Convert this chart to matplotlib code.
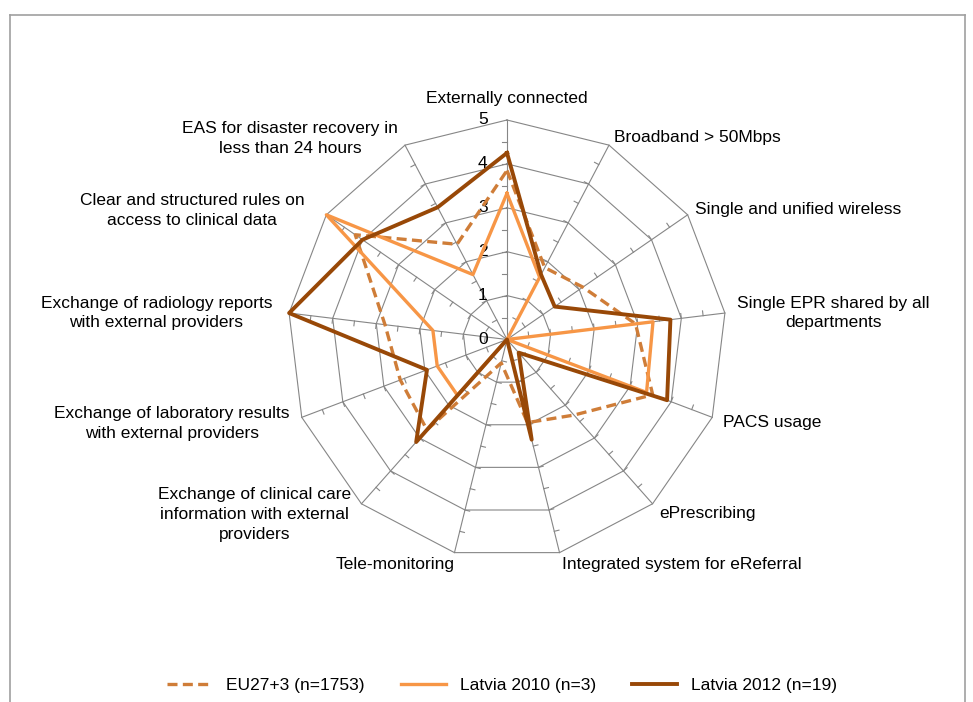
import numpy as np
import matplotlib.pyplot as plt
from matplotlib.lines import Line2D

plt.rcParams['font.family'] = ['Liberation Sans', 'DejaVu Sans']

# axes of the radar, clockwise from the top
categories = [
    "Externally connected",
    "Broadband > 50Mbps",
    "Single and unified wireless",
    "Single EPR shared by all\ndepartments",
    "PACS usage",
    "ePrescribing",
    "Integrated system for eReferral",
    "Tele-monitoring",
    "Exchange of clinical care\ninformation with external\nproviders",
    "Exchange of laboratory results\nwith external providers",
    "Exchange of radiology reports\nwith external providers",
    "Clear and structured rules on\naccess to clinical data",
    "EAS for disaster recovery in\nless than 24 hours",
]
eu = [3.85, 1.85, 2.1, 2.95, 3.55, 2.3, 1.95, 0.55, 2.75, 2.6, 2.8, 4.2, 2.45]
lv2010 = [3.33, 1.6, 0.0, 3.35, 3.4, 0.0, 0.0, 0.0, 1.7, 1.7, 1.7, 5.0, 1.67]
lv2012 = [4.25, 1.67, 1.32, 3.75, 3.9, 0.4, 2.35, 0.0, 3.12, 1.95, 5.0, 4.0, 3.4]
r_ticks = [0, 1, 2, 3, 4, 5]

# label offsets (px) from the outer vertex and alignment
lab_off = [(0, 21), (5, 8), (7, 5), (12, 0), (11, -5), (7, -10), (2, -12),
           (0, -12), (-10, -11), (-12, -6), (-17, 0), (-22, 4), (-7, 7)]
lab_ha = ['center', 'left', 'left', 'left', 'left', 'left', 'left',
          'right', 'right', 'right', 'right', 'right', 'right']

n = len(categories)
theta = np.arange(n) * 2 * np.pi / n
tc = np.append(theta, theta[0])

def closed(v):
    return np.append(v, v[0])

W, H = 973, 702
cx, cy, R = 507, 339.5, 219.5
fs = 12.5
fig = plt.figure(figsize=(W / 100, H / 100), dpi=100)
ax = fig.add_axes([(cx - R) / W, (H - cy - R) / H, 2 * R / W, 2 * R / H],
                  projection='polar')
ax.set_theta_offset(np.pi / 2)
ax.set_theta_direction(-1)
ax.set_ylim(0, 5)
ax.grid(False)
ax.spines['polar'].set_visible(False)
ax.set_xticks([])
ax.set_yticks([])
ax.patch.set_visible(False)

gkw = dict(color='#868686', lw=0.8, zorder=1, clip_on=False)
for r in r_ticks[1:]:
    ax.plot(tc, [r] * (n + 1), **gkw)
for t in theta:
    ax.plot([t, t], [0, 5], **gkw)
    for r in np.arange(0.5, 5, 0.5):
        d = 0.11
        ax.plot([t, t - np.arctan(d / r)], [r, np.hypot(r, d)], **gkw)

for r in r_ticks:
    ax.annotate(str(r), xy=(0, r), xytext=(-14, 0), textcoords='offset points',
                ha='right', va='center', fontsize=fs)

for t, lab, off, ha in zip(theta, categories, lab_off, lab_ha):
    ax.annotate(lab, xy=(t, 5), xytext=(off[0] * 0.72, off[1] * 0.72),
                textcoords='offset points', ha=ha, va='center',
                multialignment='center', fontsize=fs, linespacing=1.4,
                annotation_clip=False)

ax.plot(tc, closed(eu), color='#CF7D38', lw=2.4, dashes=(3, 1.6),
        label='EU27+3 (n=1753)', zorder=3, clip_on=False)
ax.plot(tc, closed(lv2010), color='#F79646', lw=2.4,
        label='Latvia 2010 (n=3)', zorder=4, clip_on=False)
ax.plot(tc, closed(lv2012), color='#984807', lw=2.8,
        label='Latvia 2012 (n=19)', zorder=5, clip_on=False)

fig.legend(loc='center', bbox_to_anchor=(0.516, (H - 685) / H), ncol=3,
           frameon=False, fontsize=fs, handlelength=2.6, handletextpad=0.8,
           columnspacing=2.1)

# chart border
bc = '#A0A0A0'
fig.add_artist(Line2D([10 / W, 10 / W], [0, 1 - 15 / H], color=bc, lw=1.2))
fig.add_artist(Line2D([10 / W, 965 / W], [1 - 15 / H, 1 - 15 / H], color=bc, lw=1.2))
fig.add_artist(Line2D([965 / W, 965 / W], [1 - 15 / H, 0], color=bc, lw=1.2))

fig.savefig('out.png', dpi=100, facecolor='white')
